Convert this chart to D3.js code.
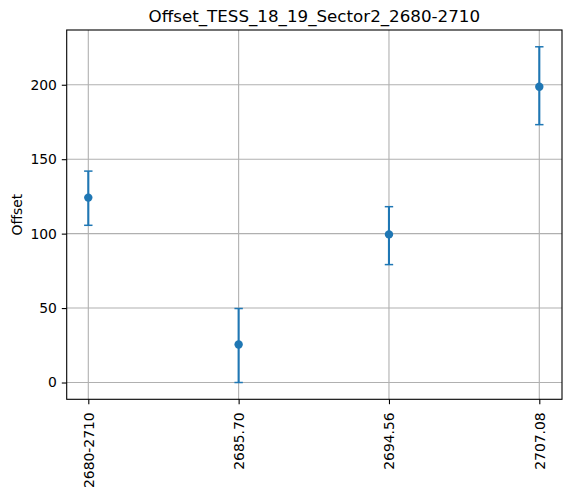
<!DOCTYPE html>
<html>
<head>
<meta charset="utf-8">
<script src="https://cdn.jsdelivr.net/npm/d3@7"></script>
<style>
  html, body { margin: 0; padding: 0; background: #fff; }
  svg { display: block; font-family: "DejaVu Sans", sans-serif; }
</style>
</head>
<body>
<svg id="chart" width="571" height="495"></svg>
<script>
// ---- data ----
const categories = ["2680-2710", "2685.70", "2694.56", "2707.08"];
const offsetValues = [124.2, 25.5, 99.5, 198.7];
const errorLow = [105.6, 0.0, 79.2, 173.2];
const errorHigh = [142.0, 49.7, 118.1, 225.5];
const yTicks = [0, 50, 100, 150, 200];
const titleText = "Offset_TESS_18_19_Sector2_2680-2710";
const yLabelText = "Offset";

// ---- layout ----
const svg = d3.select("#chart");
const plot = { left: 66.7, right: 562, top: 30, bottom: 399.3 };
const blue = "#1f77b4";
const grid = "#b0b0b0";

const x = d3.scalePoint()
  .domain(categories)
  .range([88.3, 539.3]);

const yMin = d3.min(errorLow), yMax = d3.max(errorHigh);
const yPad = (yMax - yMin) * 0.05;
const y = d3.scaleLinear()
  .domain([yMin - yPad, yMax + yPad])
  .range([plot.bottom, plot.top]);

// grid
const g = svg.append("g");
g.selectAll("line.vgrid").data(categories).enter().append("line")
  .attr("x1", d => x(d)).attr("x2", d => x(d))
  .attr("y1", plot.top).attr("y2", plot.bottom)
  .attr("stroke", grid).attr("stroke-width", 1.1);
g.selectAll("line.hgrid").data(yTicks).enter().append("line")
  .attr("x1", plot.left).attr("x2", plot.right)
  .attr("y1", d => y(d)).attr("y2", d => y(d))
  .attr("stroke", grid).attr("stroke-width", 1.1);

// axes
const yAxis = d3.axisLeft(y).tickValues(yTicks).tickSize(4.9).tickPadding(4.9).tickFormat(d3.format("d"));
const ya = svg.append("g").attr("transform", `translate(${plot.left},0)`).call(yAxis);
ya.select(".domain").remove();
ya.selectAll("line").attr("stroke", "#000").attr("stroke-width", 1.1);
ya.selectAll("text").attr("font-size", 13.9).attr("fill", "#000")
  .attr("font-family", "DejaVu Sans, sans-serif");

const xAxis = d3.axisBottom(x).tickSize(4.9).tickPadding(0);
const xa = svg.append("g").attr("transform", `translate(0,${plot.bottom})`).call(xAxis);
xa.select(".domain").remove();
xa.selectAll("line").attr("stroke", "#000").attr("stroke-width", 1.1);
xa.selectAll("text")
  .attr("font-size", 13.9).attr("fill", "#000")
  .attr("font-family", "DejaVu Sans, sans-serif")
  .attr("text-anchor", "end")
  .attr("dy", null)
  .attr("y", 0)
  .attr("dominant-baseline", "central")
  .attr("transform", "translate(0,13) rotate(-90)");

// spines
svg.append("rect")
  .attr("x", plot.left).attr("y", plot.top)
  .attr("width", plot.right - plot.left).attr("height", plot.bottom - plot.top)
  .attr("fill", "none").attr("stroke", "#000").attr("stroke-width", 1.1);

// error bars
const eb = svg.append("g");
categories.forEach((c, i) => {
  const cx = x(c);
  eb.append("line").attr("x1", cx).attr("x2", cx)
    .attr("y1", y(errorLow[i])).attr("y2", y(errorHigh[i]))
    .attr("stroke", blue).attr("stroke-width", 2.1);
  [errorLow[i], errorHigh[i]].forEach(v => {
    eb.append("line").attr("x1", cx - 4.2).attr("x2", cx + 4.2)
      .attr("y1", y(v)).attr("y2", y(v))
      .attr("stroke", blue).attr("stroke-width", 1.5);
  });
});
eb.selectAll("circle").data(categories).enter().append("circle")
  .attr("cx", d => x(d))
  .attr("cy", (d, i) => y(offsetValues[i]))
  .attr("r", 4.2)
  .attr("fill", blue);

// title
svg.append("text")
  .attr("x", (plot.left + plot.right) / 2).attr("y", 22)
  .attr("text-anchor", "middle")
  .attr("font-size", 16.7).attr("fill", "#000")
  .text(titleText);

// y label
svg.append("text")
  .attr("transform", `translate(22,${(plot.top + plot.bottom) / 2}) rotate(-90)`)
  .attr("text-anchor", "middle")
  .attr("font-size", 13.9).attr("fill", "#000")
  .text(yLabelText);
</script>
</body>
</html>
